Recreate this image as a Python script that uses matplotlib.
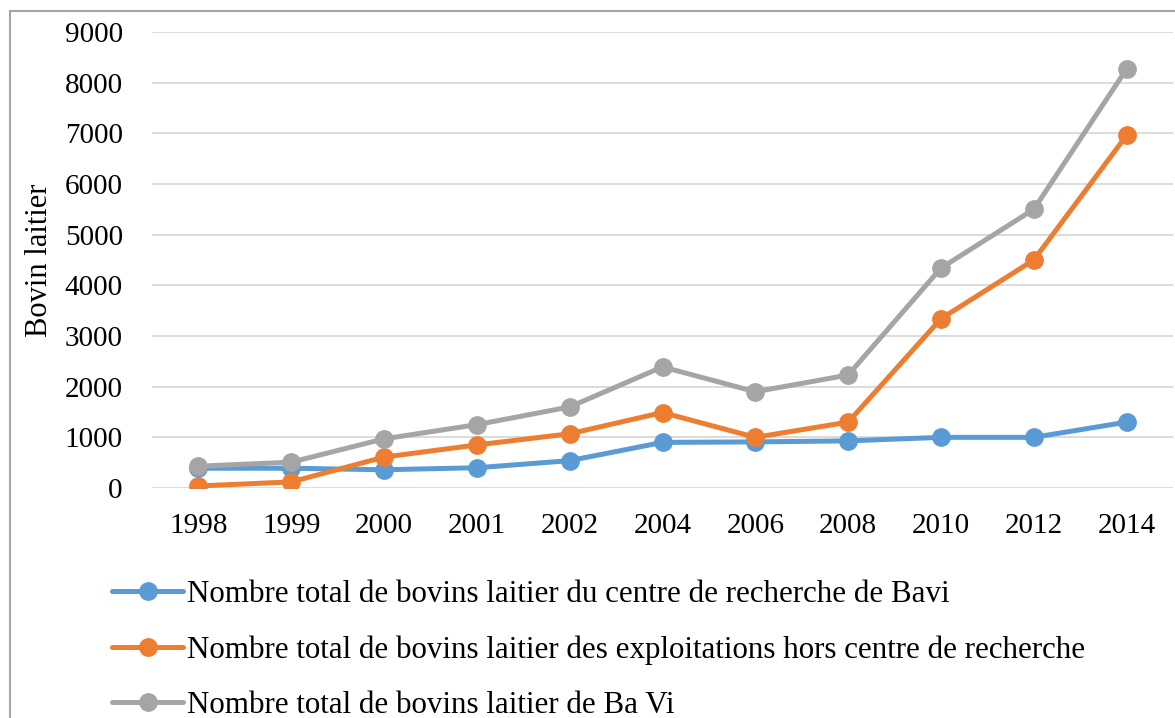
import matplotlib
matplotlib.use("Agg")
import matplotlib.pyplot as plt
from matplotlib.patches import Rectangle

plt.rcParams["font.family"] = ["Liberation Serif", "DejaVu Serif"]

# donnees
annees = ["1998", "1999", "2000", "2001", "2002", "2004", "2006", "2008", "2010", "2012", "2014"]
centre_bavi = [390, 390, 360, 400, 540, 900, 910, 930, 1000, 1000, 1300]
hors_centre = [40, 120, 610, 850, 1070, 1490, 1000, 1300, 3340, 4500, 6960]
total_bavi = [430, 510, 970, 1250, 1600, 2390, 1900, 2230, 4340, 5500, 8270]

labels = [
    "Nombre total de bovins laitier du centre de recherche de Bavi",
    "Nombre total de bovins laitier des exploitations hors centre de recherche",
    "Nombre total de bovins laitier de Ba Vi",
]

BLUE = "#5B9BD5"
ORANGE = "#ED7D31"
GRAY = "#A5A5A5"
GRID = "#D9D9D9"
FS = 21

W, H = 1175, 718
fig = plt.figure(figsize=(W / 100, H / 100), dpi=100)
ax = fig.add_axes([152 / W, 1 - 488 / H, (1173 - 152) / W, (488 - 32) / H])

x = range(len(annees))
lignes = []
for serie, col, lab in [(centre_bavi, BLUE, labels[0]),
                        (hors_centre, ORANGE, labels[1]),
                        (total_bavi, GRAY, labels[2])]:
    l, = ax.plot(x, serie, color=col, lw=3.6, marker="o", ms=12.5,
                 solid_capstyle="round", label=lab, zorder=3)
    lignes.append(l)

ax.set_xlim(-0.5, len(annees) - 0.5)
ax.set_ylim(0, 9000)
ax.set_yticks(range(0, 9001, 1000))
ax.set_xticks(list(x))
ax.set_xticklabels(annees)
ax.tick_params(axis="both", length=0, labelsize=FS, colors="black")
ax.tick_params(axis="x", pad=18)
ax.tick_params(axis="y", pad=21)
ax.yaxis.grid(True, color=GRID, lw=1.3)
ax.set_axisbelow(True)
for s in ax.spines.values():
    s.set_visible(False)

fig.text(40 / W, 1 - 260 / H, "Bovin laitier", rotation=90, ha="center",
         va="center", fontsize=22)

fig.legend(handles=lignes, loc="upper left", bbox_to_anchor=(112 / W, 1 - 580 / H),
           frameon=False, fontsize=22.3, handlelength=2.3, handletextpad=0.13,
           labelspacing=0.84, borderaxespad=0, borderpad=0)

# cadre gris autour du graphique
fig.patches.append(Rectangle((10 / W, -0.1), 1.2, 1 - 11 / H + 0.1,
                             transform=fig.transFigure, fill=False,
                             edgecolor="#A6A6A6", lw=1.5))

fig.savefig("out.png", dpi=100, facecolor="white")
